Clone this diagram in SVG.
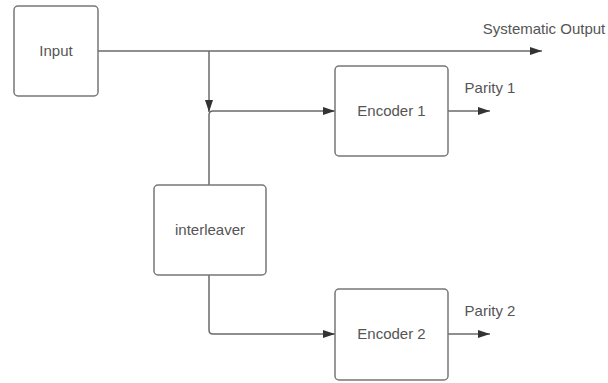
<svg xmlns="http://www.w3.org/2000/svg" width="608" height="383" viewBox="0 0 608 383">
<style>
.box{fill:#fff;stroke:#777;stroke-width:1.5}
.lbl{font-family:"Liberation Sans",Arial,sans-serif;font-size:15px;fill:#555;text-anchor:middle;dominant-baseline:central}
.ln{fill:none;stroke:#6a6a6a;stroke-width:1.5}
</style>
<defs>
<marker id="ah" viewBox="0 0 12 8" refX="12" refY="4" markerWidth="12" markerHeight="8" markerUnits="userSpaceOnUse" orient="auto">
<path d="M0,0 L12,4 L0,8 Z" fill="#333"/>
</marker>
</defs>
<rect width="608" height="383" fill="#fff"/>
<g id="connectors">
<path class="ln" d="M98,51 H542" marker-end="url(#ah)"/>
<path class="ln" d="M209,51 V112" marker-end="url(#ah)"/>
<path class="ln" d="M209,185 V115 Q209,111 213,111 H335" marker-end="url(#ah)"/>
<path class="ln" d="M209,275 V330 Q209,334 213,334 H335" marker-end="url(#ah)"/>
<path class="ln" d="M448,111 H490" marker-end="url(#ah)"/>
<path class="ln" d="M448,334 H490" marker-end="url(#ah)"/>
</g>
<g id="input">
<rect class="box" x="14" y="6" width="84" height="90" rx="4"/>
<text class="lbl" x="56" y="50">Input</text>
</g>
<g id="encoder1">
<rect class="box" x="335" y="66" width="113" height="90" rx="4"/>
<text class="lbl" x="391.5" y="110">Encoder 1</text>
</g>
<g id="interleaver">
<rect class="box" x="154" y="185" width="112" height="90" rx="4"/>
<text class="lbl" x="210" y="229">interleaver</text>
</g>
<g id="encoder2">
<rect class="box" x="335" y="289" width="113" height="91" rx="4"/>
<text class="lbl" x="391.5" y="333">Encoder 2</text>
</g>
<g id="labels">
<text class="lbl" x="544" y="28">Systematic Output</text>
<text class="lbl" x="490" y="87">Parity 1</text>
<text class="lbl" x="490" y="310">Parity 2</text>
</g>
</svg>
